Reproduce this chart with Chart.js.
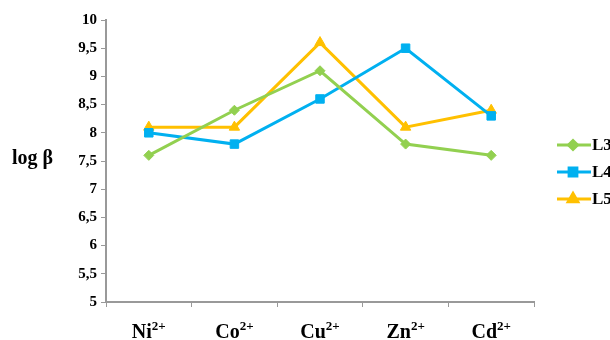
<!DOCTYPE html>
<html>
<head>
<meta charset="utf-8">
<script src="https://cdn.jsdelivr.net/npm/chart.js@4"></script>
<style>
  body { margin: 0; background: #fff; }
  #wrap { width: 610px; height: 340px; }
</style>
</head>
<body>
<div id="wrap"><canvas id="myChart" width="610" height="340"></canvas></div>
<script>
// ions and log beta values
const ions = ["Ni", "Co", "Cu", "Zn", "Cd"];
const charge = "2+";
const seriesNames = ["L3", "L4", "L5"];
const l3 = [7.6, 8.4, 9.1, 7.8, 7.6];
const l4 = [8.0, 7.8, 8.6, 9.5, 8.3];
const l5 = [8.1, 8.1, 9.6, 8.1, 8.4];
const yTicks = [5, 5.5, 6, 6.5, 7, 7.5, 8, 8.5, 9, 9.5, 10];

const colors = ["#92D050", "#00B0F0", "#FFC000"];
const shapes = ["rectRot", "rect", "triangle"];
const serif = "'Liberation Serif', 'Times New Roman', serif";

function makeSet(i, values) {
  return {
    label: seriesNames[i],
    data: values,
    borderColor: colors[i],
    backgroundColor: colors[i],
    borderWidth: 3,
    pointStyle: shapes[i],
    pointRadius: i == 0 ? 5 : 6,
    pointBorderWidth: 1,
    tension: 0
  };
}

// x labels with superscript charge, plus the y title and the legend
const extraText = {
  id: "extraText",
  afterDraw(chart) {
    const ctx = chart.ctx;
    const xs = chart.scales.x;
    ctx.save();
    ctx.fillStyle = "#000";
    ctx.textBaseline = "alphabetic";
    ions.forEach(function (ion, i) {
      const x = xs.getPixelForValue(i);
      ctx.font = "bold 20px " + serif;
      const w1 = ctx.measureText(ion).width;
      ctx.font = "bold 13px " + serif;
      const w2 = ctx.measureText(charge).width;
      const start = x - (w1 + w2) / 2;
      ctx.font = "bold 20px " + serif;
      ctx.textAlign = "left";
      ctx.fillText(ion, start, 338);
      ctx.font = "bold 13px " + serif;
      ctx.fillText(charge, start + w1, 330);
    });

    ctx.font = "bold 20px " + serif;
    ctx.textAlign = "left";
    ctx.fillText("log β", 12, 164);

    // legend
    const ly = [145, 172, 199];
    seriesNames.forEach(function (name, i) {
      ctx.strokeStyle = colors[i];
      ctx.lineWidth = 3;
      ctx.beginPath();
      ctx.moveTo(557, ly[i]);
      ctx.lineTo(591, ly[i]);
      ctx.stroke();
      Chart.helpers.drawPoint(ctx, {
        pointStyle: shapes[i],
        radius: i == 0 ? 4.5 : 5.5,
        rotation: 0,
        borderWidth: 1
      }, 573, ly[i]);
      ctx.fillStyle = colors[i];
      ctx.fill();
      ctx.fillStyle = "#000";
      ctx.font = "bold 17px " + serif;
      ctx.textBaseline = "middle";
      ctx.fillText(name, 592, ly[i] + 1);
      ctx.textBaseline = "alphabetic";
    });
    ctx.restore();
  }
};

const ctx = document.getElementById("myChart").getContext("2d");
const myChart = new Chart(ctx, {
  type: "line",
  data: {
    labels: ions,
    datasets: [makeSet(0, l3), makeSet(1, l4), makeSet(2, l5)]
  },
  options: {
    responsive: false,
    animation: false,
    layout: { padding: { left: 0, top: 20, right: 76, bottom: 0 } },
    plugins: { legend: { display: false }, tooltip: { enabled: false } },
    scales: {
      x: {
        offset: true,
        grid: {
          offset: true,
          drawOnChartArea: false,
          color: "#999",
          tickLength: 5
        },
        border: { color: "#999", width: 2 },
        ticks: { display: false },
        afterFit(scale) { scale.height = 38; }
      },
      y: {
        min: 5,
        max: 10,
        afterBuildTicks(scale) {
          scale.ticks = yTicks.map(function (v) { return { value: v }; });
        },
        grid: {
          drawOnChartArea: false,
          color: "#999",
          tickLength: 5
        },
        border: { color: "#999", width: 2 },
        ticks: {
          color: "#000",
          padding: 4,
          font: { family: serif, size: 15, weight: "bold" },
          callback: function (v) { return String(v).replace(".", ","); }
        },
        afterFit(scale) { scale.width = 106; }
      }
    }
  },
  plugins: [extraText]
});
</script>
</body>
</html>
